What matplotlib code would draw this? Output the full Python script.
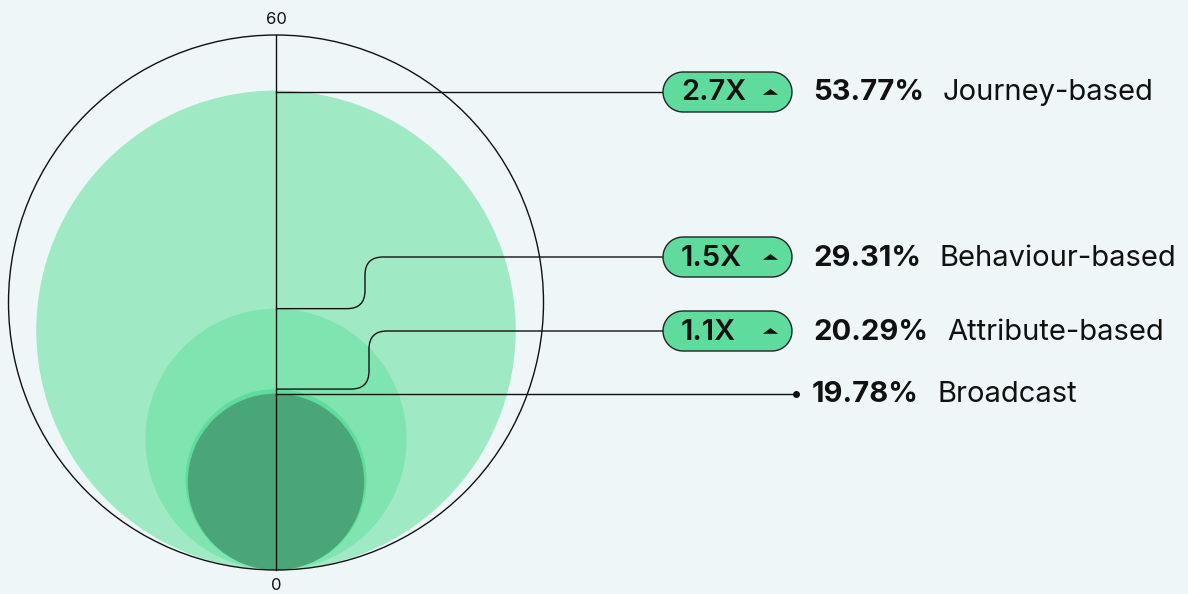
import numpy as np
import matplotlib.pyplot as plt
from matplotlib.patches import Circle, PathPatch, Polygon
from matplotlib.path import Path

# data
labels = ["Journey-based", "Behaviour-based", "Attribute-based", "Broadcast"]
values = [53.77, 29.31, 20.29, 19.78]
uplifts = ["2.7X", "1.5X", "1.1X", None]
scale_max = 60

colors = ["#9feac5", "#80e4b1", "#5fdc9d", "#4aa578"]
bg = "#eef6f8"
pill_c = "#5fdc9d"

plt.rcParams["font.family"] = ["Inter", "DejaVu Sans"]

fig = plt.figure(figsize=(11.88, 5.94), dpi=100, facecolor=bg)
ax = fig.add_axes([0, 0, 1, 1])
ax.set_xlim(0, 1188)
ax.set_ylim(594, 0)
ax.set_aspect("equal")
ax.axis("off")

cx = 276
y0 = 570
full = 535  # pixels for scale_max diameter
px = full / scale_max


def ypos(v):
    return y0 - v * px


# circles, all tangent at the bottom
for v, c in zip(values, colors):
    r = v * px / 2
    ax.add_patch(Circle((cx, y0 - r), r, facecolor=c, edgecolor="none", zorder=1))

R = full / 2
ax.add_patch(Circle((cx, y0 - R), R, facecolor="none", edgecolor="#111111", lw=1.0, zorder=3))
ax.plot([cx, cx], [ypos(scale_max), y0], color="#111111", lw=1.0, zorder=4)
ax.text(cx, 19, str(scale_max), ha="center", va="center", fontsize=12, color="#111111")
ax.text(cx, 585, "0", ha="center", va="center", fontsize=12, color="#111111")

# label rows
row_y = [92, 257, 331, None]
elbow = [None, (345, 365), (353, 369), None]
pill_x0, pill_x1 = 663, 792
ph = 40
rad = 18
tri = [(-1, -0.3), (1, -0.3), (0, 0.45)]


def connector(y_from, y_to, xa, xb, x_end):
    verts = [(cx, y_from), (xb - rad, y_from), (xb, y_from), (xb, y_from - rad),
             (xb, y_to + rad), (xb, y_to), (xb + rad, y_to), (x_end, y_to)]
    codes = [Path.MOVETO, Path.LINETO, Path.CURVE3, Path.CURVE3,
             Path.LINETO, Path.CURVE3, Path.CURVE3, Path.LINETO]
    return Path(verts, codes)


def pill(x0, x1, yc, h):
    r = h / 2
    a1 = np.linspace(np.pi / 2, 3 * np.pi / 2, 30)
    a2 = np.linspace(-np.pi / 2, np.pi / 2, 30)
    left = np.column_stack([x0 + r + r * np.cos(a1), yc - r * np.sin(a1)])
    right = np.column_stack([x1 - r + r * np.cos(a2), yc - r * np.sin(a2)])
    return np.vstack([left, right])


for i, (v, lab, up) in enumerate(zip(values, labels, uplifts)):
    yv = ypos(v)
    yr = row_y[i] if row_y[i] is not None else yv
    x_end = pill_x0 if up else 796
    if elbow[i] is None:
        ax.plot([cx, x_end], [yr, yr], color="#111111", lw=1.0, zorder=4)
    else:
        ax.add_patch(PathPatch(connector(yv, yr, elbow[i][0], elbow[i][1], x_end),
                               facecolor="none", edgecolor="#111111", lw=1.0, zorder=4))
    if up:
        ax.add_patch(Polygon(pill(pill_x0, pill_x1, yr, ph), closed=True,
                             facecolor=pill_c, edgecolor="#222222", lw=1.0, zorder=5))
        ax.text(pill_x0 + 18, yr + 1, up, ha="left", va="center", fontsize=21,
                fontweight="semibold", color="#111111", zorder=6)
        ax.plot([770], [yr], marker=tri, ms=11, color="#111111", zorder=6, mec="none")
        tx = 813
    else:
        ax.plot([796], [yr], marker="o", ms=4, color="#111111", zorder=6)
        tx = 812
    t = ax.text(tx, yr + 1, f"{v:.2f}%", ha="left", va="center", fontsize=21,
                fontweight="bold", color="#111111")
    fig.canvas.draw()
    bb = t.get_window_extent()
    ax.text(bb.x1 + 19, yr + 1, lab, ha="left", va="center", fontsize=21,
            color="#111111")

fig.savefig("out.png", dpi=100, facecolor=bg)
